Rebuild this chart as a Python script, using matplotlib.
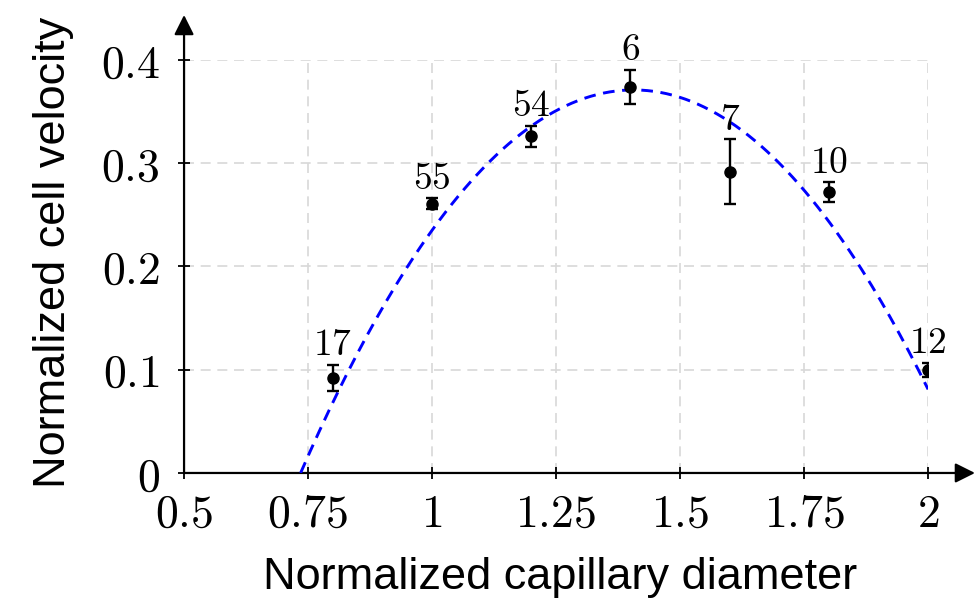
import matplotlib
matplotlib.use("Agg")
import matplotlib.pyplot as plt
import numpy as np

plt.rcParams['mathtext.fontset'] = 'cm'

# Data
diam = [0.8, 1.0, 1.2, 1.4, 1.6, 1.8, 2.0]
vel = [0.092, 0.261, 0.326, 0.374, 0.292, 0.272, 0.100]
err = [0.013, 0.005, 0.0105, 0.0167, 0.031, 0.0095, 0.0068]
counts = ["17", "55", "54", "6", "7", "10", "12"]

# Fitted quadratic (vertex form)
fit_a, fit_h, fit_k = -0.823, 1.4064, 0.371
fit_x0, fit_x1 = 0.735, 2.0

xticks = [0.5, 0.75, 1.0, 1.25, 1.5, 1.75, 2.0]
xticklabels = ["0.5", "0.75", "1", "1.25", "1.5", "1.75", "2"]
yticks = [0, 0.1, 0.2, 0.3, 0.4]
yticklabels = ["0", "0.1", "0.2", "0.3", "0.4"]

fig = plt.figure(figsize=(9.79, 6.0), dpi=100)
ax = fig.add_axes([0.188, 0.2117, 0.760, 0.6883])
ax.set_xlim(0.5, 2.0)
ax.set_ylim(0, 0.4)

for s in ax.spines.values():
    s.set_visible(False)

ax.set_xticks(xticks)
ax.set_xticklabels(["$" + t + "$" for t in xticklabels], fontsize=33)
ax.set_yticks(yticks)
ax.set_yticklabels(["$" + t + "$" for t in yticklabels], fontsize=33)
ax.tick_params(direction='inout', length=9, width=1.3)
ax.tick_params(axis='x', pad=9)
ax.tick_params(axis='y', pad=13)

ax.grid(True, color='#d8d8d8', linestyle=(0, (6, 4)), linewidth=1.2)
ax.set_axisbelow(True)

# axes arrows
ax.annotate('', xy=(1.063, 0), xycoords='axes fraction', xytext=(0, 0),
            arrowprops=dict(arrowstyle='-|>', color='black', lw=1.6, mutation_scale=30,
                            shrinkA=0, shrinkB=0))
ax.annotate('', xy=(0, 1.109), xycoords='axes fraction', xytext=(0, 0),
            arrowprops=dict(arrowstyle='-|>', color='black', lw=1.6, mutation_scale=30,
                            shrinkA=0, shrinkB=0))

# fit line
xf = np.linspace(fit_x0, fit_x1, 200)
yf = fit_a * (xf - fit_h) ** 2 + fit_k
ax.plot(xf, yf, color='#0000ff', linestyle=(0, (4, 2.6)), linewidth=2.1, zorder=3)

ax.errorbar(diam, vel, yerr=err, fmt='o', color='black', markersize=8,
            capsize=4.5, elinewidth=1.7, capthick=1.7, zorder=4)

for x, y, e, c in zip(diam, vel, err, counts):
    ax.annotate("$" + c + "$", xy=(x, y + e), xytext=(0, 1), textcoords='offset points',
                ha='center', va='bottom', fontsize=27, zorder=5)

fig.text(560 / 979, 1 - 577 / 600, "Normalized capillary diameter", fontsize=32.5,
         family='Liberation Sans', ha='center', va='center')
fig.text(54 / 979, 1 - 252 / 600, "Normalized cell velocity", fontsize=32.5,
         family='Liberation Sans', ha='center', va='center', rotation=90)

fig.savefig("out.png", dpi=100)
